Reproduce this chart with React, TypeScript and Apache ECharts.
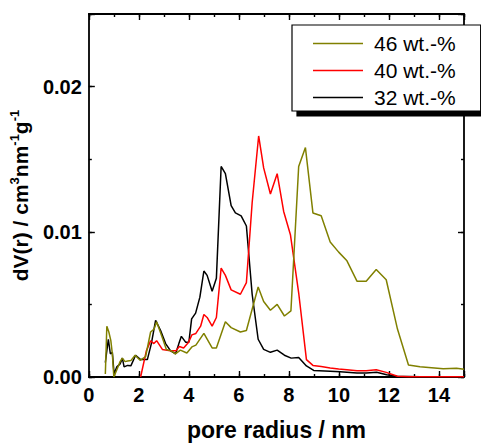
import React, { useEffect, useRef } from "react";
import * as echarts from "echarts";

const seriesNames = ["46 wt.-%", "40 wt.-%", "32 wt.-%"];
const seriesColors = ["#808000", "#ff0000", "#000000"];

const xTickLabels = [0, 2, 4, 6, 8, 10, 12, 14];
const yTickLabels = [0, 0.01, 0.02];

const olive46: number[][] = [
  [0.66, 0.0002], [0.72, 0.0035], [0.8, 0.0031], [0.88, 0.0025], [0.94, 0.0016],
  [1.0, 0.0], [1.12, 0.0005], [1.25, 0.00106], [1.34, 0.0013], [1.45, 0.00106],
  [1.55, 0.0011], [1.68, 0.00113], [1.85, 0.0015], [2.05, 0.00115], [2.27, 0.0014],
  [2.47, 0.0031], [2.61, 0.0033], [2.71, 0.0038], [2.94, 0.0027], [3.1, 0.0019],
  [3.3, 0.0018], [3.46, 0.0016], [3.66, 0.00185], [3.92, 0.00165], [4.12, 0.00207],
  [4.28, 0.0022], [4.6, 0.003], [4.93, 0.002], [5.1, 0.002], [5.46, 0.0038],
  [5.69, 0.0034], [6.06, 0.0031], [6.3, 0.0032], [6.77, 0.0062], [6.99, 0.0052],
  [7.26, 0.0046], [7.53, 0.005], [7.82, 0.0042], [8.08, 0.00455], [8.39, 0.0145],
  [8.66, 0.0158], [8.96, 0.0113], [9.29, 0.0111], [9.65, 0.0093], [9.99, 0.0086],
  [10.32, 0.008], [10.72, 0.0066], [11.09, 0.0066], [11.49, 0.0074], [11.89, 0.0067],
  [12.34, 0.0033], [12.78, 0.00083], [13.24, 0.0007], [14.17, 0.00056], [14.7, 0.0006],
  [15.0, 0.00054],
];

const red40: number[][] = [
  [2.07, 0.0], [2.3, 0.0018], [2.47, 0.0025], [2.6, 0.0023], [2.71, 0.0025],
  [2.94, 0.0019], [3.26, 0.0018], [3.48, 0.0018], [3.62, 0.0021], [3.79, 0.002],
  [3.99, 0.0024], [4.12, 0.0029], [4.28, 0.003], [4.47, 0.0035], [4.6, 0.0043],
  [4.73, 0.0041], [4.93, 0.0035], [5.1, 0.0041], [5.29, 0.0075], [5.46, 0.007],
  [5.69, 0.006], [6.06, 0.0057], [6.3, 0.0065], [6.53, 0.012], [6.79, 0.0166],
  [6.99, 0.0144], [7.26, 0.0126], [7.53, 0.014], [7.79, 0.0114], [8.06, 0.0098],
  [8.39, 0.0058], [8.7, 0.0012], [8.96, 0.0008], [9.29, 0.00072], [9.65, 0.00062],
  [9.99, 0.00055], [10.32, 0.0005], [10.72, 0.00043], [11.09, 0.00043], [11.49, 0.0005],
  [11.89, 0.00032], [12.34, 0.00005], [12.78, 0.00002], [13.24, 0.00002], [14.17, 0.00002],
  [15.0, 0.00002],
];

const black32: number[][] = [
  [0.66, 0.001], [0.78, 0.0026], [0.86, 0.0016], [0.94, 0.0017], [1.01, 0.0002],
  [1.12, 0.0007], [1.25, 0.0009], [1.34, 0.0013], [1.41, 0.0007], [1.55, 0.0008],
  [1.68, 0.00077], [1.87, 0.0015], [2.07, 0.0012], [2.34, 0.0012], [2.5, 0.0023],
  [2.67, 0.0039], [2.87, 0.0032], [3.07, 0.0023], [3.27, 0.0018], [3.47, 0.0016],
  [3.6, 0.0023], [3.7, 0.0028], [3.87, 0.0024], [4.0, 0.0024], [4.11, 0.004],
  [4.27, 0.0044], [4.44, 0.0055], [4.6, 0.0073], [4.73, 0.007], [4.93, 0.0059],
  [5.1, 0.0068], [5.29, 0.0145], [5.46, 0.014], [5.69, 0.0118], [5.86, 0.0113],
  [6.09, 0.0111], [6.3, 0.0104], [6.53, 0.0057], [6.77, 0.0026], [6.99, 0.0019],
  [7.26, 0.0017], [7.53, 0.00185], [7.82, 0.0015], [8.09, 0.0013], [8.39, 0.00135],
  [8.7, 0.00076], [8.99, 0.00045], [9.65, 0.0004], [10.05, 0.00036], [10.72, 0.00027],
  [11.09, 0.00028], [11.51, 0.00032], [11.91, 0.00016], [12.31, 0.00005], [13.24, 0.00002],
  [15.0, 0.00002],
];

const FONT = "'Liberation Sans', Arial, sans-serif";

export default function App() {
  const ref = useRef<HTMLDivElement>(null);
  useEffect(() => {
    if (!ref.current) return;
    const chart = echarts.init(ref.current, null, { renderer: "svg" });
    const axisLineStyle = { color: "#000", width: 1.8 };
    const tickStyle = { color: "#000", width: 1.4 };
    const xBase = (pos: string, interval: number, len: number, showLine: boolean, showLabel: boolean, withName: boolean) => ({
      type: "value",
      position: pos,
      min: 0,
      max: 15,
      interval,
      axisLine: { show: showLine, onZero: false, lineStyle: axisLineStyle },
      axisTick: { show: true, inside: true, length: len, lineStyle: tickStyle },
      splitLine: { show: false },
      axisLabel: {
        show: showLabel,
        margin: 8,
        fontSize: 20,
        fontWeight: "bold",
        fontFamily: FONT,
        color: "#000",
        formatter: (v: number) => (xTickLabels.indexOf(v) >= 0 ? String(v) : ""),
      },
      name: withName ? "pore radius / nm" : "",
      nameLocation: "middle",
      nameGap: 41,
      nameTextStyle: { fontSize: 23, fontWeight: "bold", fontFamily: FONT, color: "#000" },
    });
    const yBase = (pos: string, interval: number, len: number, showLine: boolean, showLabel: boolean, withName: boolean) => ({
      type: "value",
      position: pos,
      min: 0,
      max: 0.025,
      interval,
      axisLine: { show: showLine, onZero: false, lineStyle: axisLineStyle },
      axisTick: { show: true, inside: true, length: len, lineStyle: tickStyle },
      splitLine: { show: false },
      axisLabel: {
        show: showLabel,
        margin: 7,
        fontSize: 20,
        fontWeight: "bold",
        fontFamily: FONT,
        color: "#000",
        formatter: (v: number) =>
          yTickLabels.some((t) => Math.abs(t - v) < 1e-9) ? v.toFixed(2) : "",
      },
      name: withName ? "dV(r) / cm{sup|3}nm{sup|-1}g{sup|-1}" : "",
      nameLocation: "middle",
      nameGap: 39,
      nameRotate: 90,
      nameTextStyle: {
        fontSize: 21,
        fontWeight: "bold",
        fontFamily: FONT,
        color: "#000",
        lineHeight: 24,
        rich: {
          sup: {
            fontSize: 13,
            fontWeight: "bold",
            fontFamily: FONT,
            color: "#000",
            lineHeight: 13,
            verticalAlign: "top",
          },
        },
      },
    });
    const data = [olive46, red40, black32];
    chart.setOption({
      animation: false,
      backgroundColor: "#fff",
      grid: { left: 88, right: 17, top: 14, bottom: 62, containLabel: false },
      xAxis: [
        xBase("bottom", 2, 6, true, true, true),
        xBase("bottom", 1, 3, false, false, false),
        xBase("top", 2, 6, true, false, false),
        xBase("top", 1, 3, false, false, false),
      ],
      yAxis: [
        yBase("left", 0.01, 6, true, true, true),
        yBase("left", 0.005, 3, false, false, false),
        yBase("right", 0.01, 6, true, false, false),
        yBase("right", 0.005, 3, false, false, false),
      ],
      legend: {
        data: seriesNames.map((n) => ({ name: n, icon: "path://M0,0H50V1.5H0Z" })),
        orient: "vertical",
        left: 292,
        top: 25,
        padding: [8, 25, 3, 21],
        itemGap: 6,
        itemWidth: 50,
        itemHeight: 14,
        symbolKeepAspect: true,
        backgroundColor: "#fff",
        borderColor: "#000",
        borderWidth: 1.2,
        borderRadius: 0,
        shadowColor: "#000",
        shadowBlur: 0,
        shadowOffsetX: 5,
        shadowOffsetY: 5,
        textStyle: {
          fontSize: 21,
          fontFamily: FONT,
          color: "#000",
          lineHeight: 21,
          padding: [0, 0, 0, 6],
        },
      },
      series: seriesNames.map((n, i) => ({
        name: n,
        type: "line",
        data: data[i],
        xAxisIndex: 0,
        yAxisIndex: 0,
        symbol: "none",
        color: seriesColors[i],
        lineStyle: { color: seriesColors[i], width: 1.5 },
        z: 3 - i,
      })),
    });
    return () => chart.dispose();
  }, []);
  return (
    <div
      ref={ref}
      style={{ position: "fixed", left: 0, top: 0, width: 481, height: 446 }}
    />
  );
}
